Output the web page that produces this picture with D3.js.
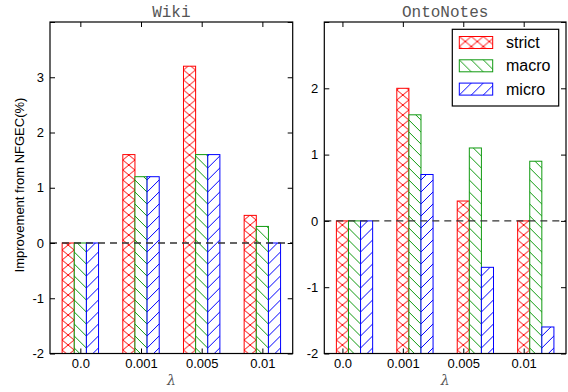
<!DOCTYPE html>
<html>
<head>
<meta charset="utf-8">
<script src="https://cdn.jsdelivr.net/npm/d3@7"></script>
<style>
    body { margin: 0; background: #fff; }
    svg { display: block; }
    .tick text { font-family: "Liberation Sans", Arial, sans-serif; font-size: 13px; fill: #000; }
</style>
</head>
<body>
<div id="svg"></div>
<script>
// lambda 取值（x 轴类别）
var lambdas = ['0.0', '0.001', '0.005', '0.01'];
var seriesNames = ['strict', 'macro', 'micro'];
var seriesColors = ['#ff0000', '#109a10', '#0000ff'];

// Wiki 数据
var wikiStrict = [0, 1.6, 3.2, 0.5];
var wikiMacro = [0, 1.2, 1.6, 0.3];
var wikiMicro = [0, 1.2, 1.6, 0];

// OntoNotes 数据
var ontoStrict = [0, 2.0, 0.3, 0];
var ontoMacro = [0, 1.6, 1.1, 0.9];
var ontoMicro = [0, 0.7, -0.7, -1.6];

var wikiTicks = [-2, -1, 0, 1, 2, 3, 4];
var ontoTicks = [-2, -1, 0, 1, 2, 3];

var width = 568;
var height = 392;

var svg = d3.select('#svg')
    .append('svg')
    .attr('width', width + 'px')
    .attr('height', height + 'px');

// 填充图案：交叉线、反斜线、斜线
var defs = svg.append('defs');
function addPattern(id, w, h, lines, color) {
    var p = defs.append('pattern')
        .attr('id', id)
        .attr('patternUnits', 'userSpaceOnUse')
        .attr('width', w)
        .attr('height', h);
    p.append('rect').attr('width', w).attr('height', h).attr('fill', '#fff');
    lines.forEach(function (l) {
        p.append('line')
            .attr('x1', l[0]).attr('y1', l[1])
            .attr('x2', l[2]).attr('y2', l[3])
            .attr('stroke', color)
            .attr('stroke-width', 1);
    });
}
addPattern('pat0', 12, 10, [[0, 0, 12, 10], [12, 0, 0, 10]], seriesColors[0]);
addPattern('pat1', 12, 12, [[0, 0, 12, 12], [-6, 6, 6, 18], [6, -6, 18, 6]], seriesColors[1]);
addPattern('pat2', 12, 12, [[12, 0, 0, 12], [18, 6, 6, 18], [6, -6, -6, 6]], seriesColors[2]);

var panels = [
    { title: 'Wiki', left: 50, right: 292.7, xDomain: [-0.5, 3.5], yDomain: [-2, 4],
      ticks: wikiTicks, labels: [-2, -1, 0, 1, 2, 3], shift: -1.5,
      series: [wikiStrict, wikiMacro, wikiMicro] },
    { title: 'OntoNotes', left: 324.3, right: 566, xDomain: [-0.3, 3.7], yDomain: [-2, 3],
      ticks: ontoTicks, labels: [-2, -1, 0, 1, 2], shift: -0.5,
      series: [ontoStrict, ontoMacro, ontoMicro] }
];
var plotTop = 22;
var plotBottom = 353.5;
var barW = 0.2;

panels.forEach(function (pn) {
    var xScale = d3.scaleLinear().domain(pn.xDomain).range([pn.left, pn.right]);
    var yScale = d3.scaleLinear().domain(pn.yDomain).range([plotBottom, plotTop]);
    var g = svg.append('g');

    // 柱子：从底部 -2 画到数值
    pn.series.forEach(function (vals, s) {
        g.append('g')
            .selectAll('g')
            .data(vals)
            .enter()
            .append('g')
            .attr('transform', function (d, i) {
                return 'translate(' + xScale(i + (pn.shift + s) * barW) + ',0)';
            })
            .append('rect')
            .attr('x', 0)
            .attr('y', function (d) { return yScale(d); })
            .attr('width', xScale(barW) - xScale(0))
            .attr('height', function (d) { return yScale(pn.yDomain[0]) - yScale(d); })
            .attr('fill', 'url(#pat' + s + ')')
            .attr('stroke', seriesColors[s])
            .attr('stroke-width', 1);
    });

    // 0 处虚线
    g.append('line')
        .attr('x1', pn.left).attr('x2', pn.right)
        .attr('y1', yScale(0)).attr('y2', yScale(0))
        .attr('stroke', '#333')
        .attr('stroke-width', 1.3)
        .attr('stroke-dasharray', '7,5');

    // 坐标轴（刻度朝内）
    var xIdx = lambdas.map(function (d, i) { return i; });
    g.append('g')
        .attr('transform', 'translate(0,' + plotBottom + ')')
        .call(d3.axisBottom(xScale).tickValues(xIdx).tickSize(-5).tickPadding(5)
            .tickFormat(function (d) { return lambdas[d]; }));
    g.append('g')
        .attr('transform', 'translate(0,' + plotTop + ')')
        .call(d3.axisTop(xScale).tickValues(xIdx).tickSize(-5).tickFormat(''));
    g.append('g')
        .attr('transform', 'translate(' + pn.left + ',0)')
        .call(d3.axisLeft(yScale).tickValues(pn.ticks).tickSize(-5).tickPadding(6)
            .tickFormat(function (d) { return pn.labels.indexOf(d) >= 0 ? d : ''; }));
    g.append('g')
        .attr('transform', 'translate(' + pn.right + ',0)')
        .call(d3.axisRight(yScale).tickValues(pn.ticks).tickSize(-5).tickFormat(''));
    g.selectAll('.domain').remove();
    g.selectAll('.tick line').attr('stroke', '#000');

    // 边框
    g.append('rect')
        .attr('x', pn.left).attr('y', plotTop)
        .attr('width', pn.right - pn.left).attr('height', plotBottom - plotTop)
        .attr('fill', 'none')
        .attr('stroke', '#000')
        .attr('stroke-width', 1.2);

    var cx = (pn.left + pn.right) / 2;
    g.append('text')
        .attr('x', cx).attr('y', 16.5)
        .attr('text-anchor', 'middle')
        .attr('font-family', '"Liberation Mono", "Courier New", monospace')
        .attr('font-size', '16px')
        .attr('fill', '#555')
        .text(pn.title);
    g.append('text')
        .attr('x', cx).attr('y', 385)
        .attr('text-anchor', 'middle')
        .attr('font-family', '"DejaVu Serif", serif')
        .attr('font-style', 'italic')
        .attr('font-size', '14px')
        .attr('fill', '#555')
        .text('λ');
});

// y 轴标题
svg.append('text')
    .attr('transform', 'translate(24,185) rotate(-90)')
    .attr('text-anchor', 'middle')
    .attr('font-family', '"Liberation Sans", Arial, sans-serif')
    .attr('font-size', '13px')
    .attr('fill', '#000')
    .text('Improvement from NFGEC(%)');

// 图例
var legend = svg.append('g');
legend.append('rect')
    .attr('x', 452.3).attr('y', 29.3)
    .attr('width', 106.4).attr('height', 76.7)
    .attr('fill', '#fff')
    .attr('stroke', '#000')
    .attr('stroke-width', 1.2);
seriesNames.forEach(function (name, s) {
    var cy = 42.5 + s * 23.3;
    legend.append('g')
        .attr('transform', 'translate(459.3,' + (cy - 6) + ')')
        .append('rect')
        .attr('width', 33.4).attr('height', 12)
        .attr('fill', 'url(#pat' + s + ')')
        .attr('stroke', seriesColors[s])
        .attr('stroke-width', 1);
    legend.append('text')
        .attr('x', 506).attr('y', cy + 5.5)
        .attr('font-family', '"Liberation Sans", Arial, sans-serif')
        .attr('font-size', '16px')
        .attr('fill', '#000')
        .text(name);
});
</script>
</body>
</html>
